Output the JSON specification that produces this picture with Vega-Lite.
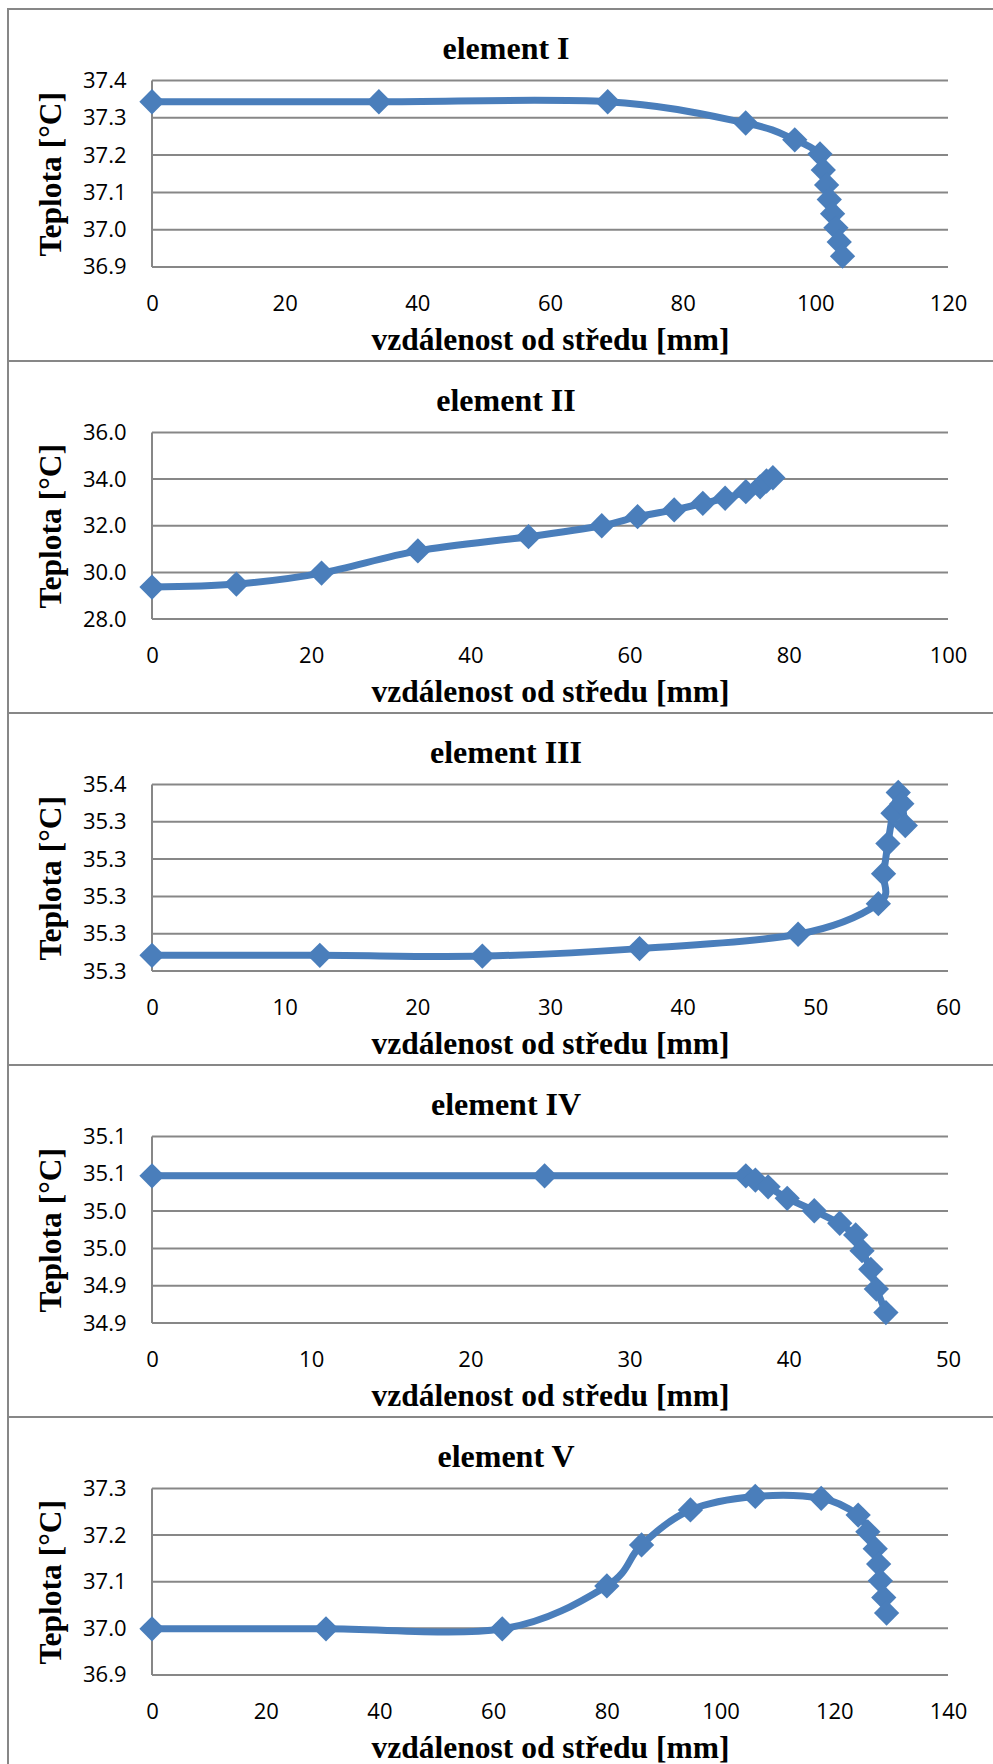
{
  "$schema": "https://vega.github.io/schema/vega-lite/v6.json",
  "background": "white",
  "padding": {"left": 7, "top": 8, "right": 0, "bottom": 0},
  "spacing": 0,
  "bounds": "flush",
  "config": {
    "view": {"stroke": "#878787", "strokeWidth": 2},
    "axis": {
      "labelFont": "Open Sans", "labelFontSize": 22, "labelColor": "black",
      "titleFont": "Liberation Serif", "titleFontSize": 31.5, "titleFontWeight": "bold", "titleColor": "black",
      "domain": false, "ticks": false, "tickSize": 0, "grid": false, "labelPadding": 26,
      "labelFlush": false, "labelOverlap": false, "labelBound": false
    },
    "title": {"font": "Liberation Serif", "fontSize": 32, "fontWeight": "bold", "color": "black", "anchor": "middle", "frame": "group", "offset": -57, "baseline": "alphabetic"}
  },
  "vconcat": [
    {
      "width": 996, "height": 352,
      "title": {"text": "element I"},
      "layer": [
        {"data": {"values": [{"g": 36.9}, {"g": 37.0}, {"g": 37.1}, {"g": 37.2}, {"g": 37.3}, {"g": 37.4}]},
         "mark": {"type": "rule", "color": "#878787", "strokeWidth": 2},
         "encoding": {
           "y": {"field": "g", "type": "quantitative", "scale": {"domain": [36.647989, 37.591689], "nice": false, "zero": false}},
           "x": {"datum": 0, "type": "quantitative", "scale": {"domain": [-21.7085, 128.442], "nice": false, "zero": false}},
           "x2": {"datum": 120}}},
        {"data": {"values": [{"lo": 36.9, "hi": 37.4}]},
         "mark": {"type": "rule", "color": "#878787", "strokeWidth": 2},
         "encoding": {
           "x": {"datum": 0, "type": "quantitative", "scale": {"domain": [-21.7085, 128.442], "nice": false, "zero": false}},
           "y": {"field": "lo", "type": "quantitative", "scale": {"domain": [36.647989, 37.591689], "nice": false, "zero": false}},
           "y2": {"field": "hi"}}},
        {"data": {"name": "p1"},
         "mark": {"type": "line", "interpolate": "cardinal", "color": "#4a7ebb", "strokeWidth": 7},
         "encoding": {
           "x": {"field": "x", "type": "quantitative", "scale": {"domain": [-21.7085, 128.442], "nice": false, "zero": false}},
           "y": {"field": "t", "type": "quantitative", "scale": {"domain": [36.647989, 37.591689], "nice": false, "zero": false}},
           "order": {"field": "i", "type": "quantitative"}}},
        {"data": {"name": "p1"},
         "mark": {"type": "point", "shape": "diamond", "filled": true, "size": 640, "color": "#4a7ebb", "opacity": 1},
         "encoding": {
           "x": {"field": "x", "type": "quantitative", "scale": {"domain": [-21.7085, 128.442], "nice": false, "zero": false},
                 "axis": {"title": "vzdálenost od středu [mm]", "values": [0, 20, 40, 60, 80, 100, 120], "format": "d", "offset": -94, "titleX": 542, "titleY": 82, "titleBaseline": "alphabetic", "titleAlign": "center"}},
           "y": {"field": "t", "type": "quantitative", "scale": {"domain": [36.647989, 37.591689], "nice": false, "zero": false},
                 "axis": {"title": "Teplota [°C]", "values": [36.9, 37.0, 37.1, 37.2, 37.3, 37.4], "labelExpr": "format(datum.value + 1e-9, '.1f')", "offset": -144, "titleX": -92, "titleY": 164.75, "titleAngle": -90, "titleBaseline": "alphabetic", "titleAlign": "center"}}}}
      ]
    },
    {
      "width": 996, "height": 352,
      "title": {"text": "element II"},
      "layer": [
        {"data": {"values": [{"g": 28}, {"g": 30}, {"g": 32}, {"g": 34}, {"g": 36}]},
         "mark": {"type": "rule", "color": "#878787", "strokeWidth": 2},
         "encoding": {
           "y": {"field": "g", "type": "quantitative", "scale": {"domain": [23.96783, 39.06702], "nice": false, "zero": false}},
           "x": {"datum": 0, "type": "quantitative", "scale": {"domain": [-18.0905, 107.035], "nice": false, "zero": false}},
           "x2": {"datum": 100}}},
        {"data": {"values": [{"lo": 28, "hi": 36}]},
         "mark": {"type": "rule", "color": "#878787", "strokeWidth": 2},
         "encoding": {
           "x": {"datum": 0, "type": "quantitative", "scale": {"domain": [-18.0905, 107.035], "nice": false, "zero": false}},
           "y": {"field": "lo", "type": "quantitative", "scale": {"domain": [23.96783, 39.06702], "nice": false, "zero": false}},
           "y2": {"field": "hi"}}},
        {"data": {"name": "p2"},
         "mark": {"type": "line", "interpolate": "cardinal", "color": "#4a7ebb", "strokeWidth": 7},
         "encoding": {
           "x": {"field": "x", "type": "quantitative", "scale": {"domain": [-18.0905, 107.035], "nice": false, "zero": false}},
           "y": {"field": "t", "type": "quantitative", "scale": {"domain": [23.96783, 39.06702], "nice": false, "zero": false}},
           "order": {"field": "i", "type": "quantitative"}}},
        {"data": {"name": "p2"},
         "mark": {"type": "point", "shape": "diamond", "filled": true, "size": 640, "color": "#4a7ebb", "opacity": 1},
         "encoding": {
           "x": {"field": "x", "type": "quantitative", "scale": {"domain": [-18.0905, 107.035], "nice": false, "zero": false},
                 "axis": {"title": "vzdálenost od středu [mm]", "values": [0, 20, 40, 60, 80, 100], "format": "d", "offset": -94, "titleX": 542, "titleY": 82, "titleBaseline": "alphabetic", "titleAlign": "center"}},
           "y": {"field": "t", "type": "quantitative", "scale": {"domain": [23.96783, 39.06702], "nice": false, "zero": false},
                 "axis": {"title": "Teplota [°C]", "values": [28, 30, 32, 34, 36], "labelExpr": "format(datum.value + 1e-9, '.1f')", "offset": -144, "titleX": -92, "titleY": 164.75, "titleAngle": -90, "titleBaseline": "alphabetic", "titleAlign": "center"}}}}
      ]
    },
    {
      "width": 996, "height": 352,
      "title": {"text": "element III"},
      "layer": [
        {"data": {"values": [{"g": 35.26}, {"g": 35.28}, {"g": 35.30}, {"g": 35.32}, {"g": 35.34}, {"g": 35.36}]},
         "mark": {"type": "rule", "color": "#878787", "strokeWidth": 2},
         "encoding": {
           "y": {"field": "g", "type": "quantitative", "scale": {"domain": [35.2095979, 35.3983378], "nice": false, "zero": false}},
           "x": {"datum": 0, "type": "quantitative", "scale": {"domain": [-10.8543, 64.2211], "nice": false, "zero": false}},
           "x2": {"datum": 60}}},
        {"data": {"values": [{"lo": 35.26, "hi": 35.36}]},
         "mark": {"type": "rule", "color": "#878787", "strokeWidth": 2},
         "encoding": {
           "x": {"datum": 0, "type": "quantitative", "scale": {"domain": [-10.8543, 64.2211], "nice": false, "zero": false}},
           "y": {"field": "lo", "type": "quantitative", "scale": {"domain": [35.2095979, 35.3983378], "nice": false, "zero": false}},
           "y2": {"field": "hi"}}},
        {"data": {"name": "p3"},
         "mark": {"type": "line", "interpolate": "cardinal", "color": "#4a7ebb", "strokeWidth": 7},
         "encoding": {
           "x": {"field": "x", "type": "quantitative", "scale": {"domain": [-10.8543, 64.2211], "nice": false, "zero": false}},
           "y": {"field": "t", "type": "quantitative", "scale": {"domain": [35.2095979, 35.3983378], "nice": false, "zero": false}},
           "order": {"field": "i", "type": "quantitative"}}},
        {"data": {"name": "p3"},
         "mark": {"type": "point", "shape": "diamond", "filled": true, "size": 640, "color": "#4a7ebb", "opacity": 1},
         "encoding": {
           "x": {"field": "x", "type": "quantitative", "scale": {"domain": [-10.8543, 64.2211], "nice": false, "zero": false},
                 "axis": {"title": "vzdálenost od středu [mm]", "values": [0, 10, 20, 30, 40, 50, 60], "format": "d", "offset": -94, "titleX": 542, "titleY": 82, "titleBaseline": "alphabetic", "titleAlign": "center"}},
           "y": {"field": "t", "type": "quantitative", "scale": {"domain": [35.2095979, 35.3983378], "nice": false, "zero": false},
                 "axis": {"title": "Teplota [°C]", "values": [35.26, 35.28, 35.30, 35.32, 35.34, 35.36], "labelExpr": "format(datum.value + 1e-9, '.1f')", "offset": -144, "titleX": -92, "titleY": 164.75, "titleAngle": -90, "titleBaseline": "alphabetic", "titleAlign": "center"}}}}
      ]
    },
    {
      "width": 996, "height": 352,
      "title": {"text": "element IV"},
      "layer": [
        {"data": {"values": [{"g": 34.85}, {"g": 34.90}, {"g": 34.95}, {"g": 35.00}, {"g": 35.05}, {"g": 35.10}]},
         "mark": {"type": "rule", "color": "#878787", "strokeWidth": 2},
         "encoding": {
           "y": {"field": "g", "type": "quantitative", "scale": {"domain": [34.723995, 35.1958445], "nice": false, "zero": false}},
           "x": {"datum": 0, "type": "quantitative", "scale": {"domain": [-9.0452, 53.5176], "nice": false, "zero": false}},
           "x2": {"datum": 50}}},
        {"data": {"values": [{"lo": 34.85, "hi": 35.10}]},
         "mark": {"type": "rule", "color": "#878787", "strokeWidth": 2},
         "encoding": {
           "x": {"datum": 0, "type": "quantitative", "scale": {"domain": [-9.0452, 53.5176], "nice": false, "zero": false}},
           "y": {"field": "lo", "type": "quantitative", "scale": {"domain": [34.723995, 35.1958445], "nice": false, "zero": false}},
           "y2": {"field": "hi"}}},
        {"data": {"name": "p4"},
         "mark": {"type": "line", "interpolate": "linear", "color": "#4a7ebb", "strokeWidth": 7},
         "encoding": {
           "x": {"field": "x", "type": "quantitative", "scale": {"domain": [-9.0452, 53.5176], "nice": false, "zero": false}},
           "y": {"field": "t", "type": "quantitative", "scale": {"domain": [34.723995, 35.1958445], "nice": false, "zero": false}},
           "order": {"field": "i", "type": "quantitative"}}},
        {"data": {"name": "p4"},
         "mark": {"type": "point", "shape": "diamond", "filled": true, "size": 640, "color": "#4a7ebb", "opacity": 1},
         "encoding": {
           "x": {"field": "x", "type": "quantitative", "scale": {"domain": [-9.0452, 53.5176], "nice": false, "zero": false},
                 "axis": {"title": "vzdálenost od středu [mm]", "values": [0, 10, 20, 30, 40, 50], "format": "d", "offset": -94, "titleX": 542, "titleY": 82, "titleBaseline": "alphabetic", "titleAlign": "center"}},
           "y": {"field": "t", "type": "quantitative", "scale": {"domain": [34.723995, 35.1958445], "nice": false, "zero": false},
                 "axis": {"title": "Teplota [°C]", "values": [34.85, 34.90, 34.95, 35.00, 35.05, 35.10], "labelExpr": "format(datum.value + 1e-9, '.1f')", "offset": -144, "titleX": -92, "titleY": 164.75, "titleAngle": -90, "titleBaseline": "alphabetic", "titleAlign": "center"}}}}
      ]
    },
    {
      "width": 996, "height": 352,
      "title": {"text": "element V"},
      "layer": [
        {"data": {"values": [{"g": 36.9}, {"g": 37.0}, {"g": 37.1}, {"g": 37.2}, {"g": 37.3}]},
         "mark": {"type": "rule", "color": "#878787", "strokeWidth": 2},
         "encoding": {
           "y": {"field": "g", "type": "quantitative", "scale": {"domain": [36.698391, 37.453351], "nice": false, "zero": false}},
           "x": {"datum": 0, "type": "quantitative", "scale": {"domain": [-25.3266, 149.849], "nice": false, "zero": false}},
           "x2": {"datum": 140}}},
        {"data": {"values": [{"lo": 36.9, "hi": 37.3}]},
         "mark": {"type": "rule", "color": "#878787", "strokeWidth": 2},
         "encoding": {
           "x": {"datum": 0, "type": "quantitative", "scale": {"domain": [-25.3266, 149.849], "nice": false, "zero": false}},
           "y": {"field": "lo", "type": "quantitative", "scale": {"domain": [36.698391, 37.453351], "nice": false, "zero": false}},
           "y2": {"field": "hi"}}},
        {"data": {"name": "p5"},
         "mark": {"type": "line", "interpolate": "cardinal", "color": "#4a7ebb", "strokeWidth": 7},
         "encoding": {
           "x": {"field": "x", "type": "quantitative", "scale": {"domain": [-25.3266, 149.849], "nice": false, "zero": false}},
           "y": {"field": "t", "type": "quantitative", "scale": {"domain": [36.698391, 37.453351], "nice": false, "zero": false}},
           "order": {"field": "i", "type": "quantitative"}}},
        {"data": {"name": "p5"},
         "mark": {"type": "point", "shape": "diamond", "filled": true, "size": 640, "color": "#4a7ebb", "opacity": 1},
         "encoding": {
           "x": {"field": "x", "type": "quantitative", "scale": {"domain": [-25.3266, 149.849], "nice": false, "zero": false},
                 "axis": {"title": "vzdálenost od středu [mm]", "values": [0, 20, 40, 60, 80, 100, 120, 140], "format": "d", "offset": -94, "titleX": 542, "titleY": 82, "titleBaseline": "alphabetic", "titleAlign": "center"}},
           "y": {"field": "t", "type": "quantitative", "scale": {"domain": [36.698391, 37.453351], "nice": false, "zero": false},
                 "axis": {"title": "Teplota [°C]", "values": [36.9, 37.0, 37.1, 37.2, 37.3], "labelExpr": "format(datum.value + 1e-9, '.1f')", "offset": -144, "titleX": -92, "titleY": 164.75, "titleAngle": -90, "titleBaseline": "alphabetic", "titleAlign": "center"}}}}
      ]
    }
  ],
  "datasets": {
    "p1": [
      {"i": 1, "x": 0, "t": 37.343}, {"i": 2, "x": 34.2, "t": 37.343}, {"i": 3, "x": 68.7, "t": 37.343},
      {"i": 4, "x": 89.5, "t": 37.286}, {"i": 5, "x": 96.9, "t": 37.241}, {"i": 6, "x": 100.7, "t": 37.203},
      {"i": 7, "x": 101.2, "t": 37.160}, {"i": 8, "x": 101.7, "t": 37.120}, {"i": 9, "x": 102.1, "t": 37.081},
      {"i": 10, "x": 102.6, "t": 37.043}, {"i": 11, "x": 103.1, "t": 37.005}, {"i": 12, "x": 103.6, "t": 36.967},
      {"i": 13, "x": 104.1, "t": 36.929}
    ],
    "p2": [
      {"i": 1, "x": 0, "t": 29.37}, {"i": 2, "x": 10.6, "t": 29.50}, {"i": 3, "x": 21.3, "t": 29.97},
      {"i": 4, "x": 33.4, "t": 30.92}, {"i": 5, "x": 47.3, "t": 31.53}, {"i": 6, "x": 56.5, "t": 32.00},
      {"i": 7, "x": 61.0, "t": 32.39}, {"i": 8, "x": 65.6, "t": 32.68}, {"i": 9, "x": 69.2, "t": 32.96},
      {"i": 10, "x": 72.0, "t": 33.18}, {"i": 11, "x": 74.6, "t": 33.46}, {"i": 12, "x": 76.4, "t": 33.67},
      {"i": 13, "x": 77.2, "t": 33.92}, {"i": 14, "x": 78.0, "t": 34.06}
    ],
    "p3": [
      {"i": 1, "x": 0, "t": 35.2684}, {"i": 2, "x": 12.65, "t": 35.2684}, {"i": 3, "x": 24.9, "t": 35.2680},
      {"i": 4, "x": 36.75, "t": 35.2720}, {"i": 5, "x": 48.7, "t": 35.2797}, {"i": 6, "x": 54.75, "t": 35.2961},
      {"i": 7, "x": 55.14, "t": 35.3122}, {"i": 8, "x": 55.47, "t": 35.3283}, {"i": 9, "x": 55.85, "t": 35.3446},
      {"i": 10, "x": 56.25, "t": 35.3557}, {"i": 11, "x": 56.52, "t": 35.3497}, {"i": 12, "x": 56.78, "t": 35.3380}
    ],
    "p4": [
      {"i": 1, "x": 0, "t": 35.0473}, {"i": 2, "x": 24.66, "t": 35.0473}, {"i": 3, "x": 37.3, "t": 35.0473},
      {"i": 4, "x": 37.9, "t": 35.0416}, {"i": 5, "x": 38.7, "t": 35.0326}, {"i": 6, "x": 39.9, "t": 35.0171},
      {"i": 7, "x": 41.6, "t": 35.0005}, {"i": 8, "x": 43.2, "t": 34.9837}, {"i": 9, "x": 44.2, "t": 34.9680},
      {"i": 10, "x": 44.6, "t": 34.9470}, {"i": 11, "x": 45.15, "t": 34.9220}, {"i": 12, "x": 45.5, "t": 34.8955},
      {"i": 13, "x": 46.1, "t": 34.8640}
    ],
    "p5": [
      {"i": 1, "x": 0, "t": 36.999}, {"i": 2, "x": 30.6, "t": 36.999}, {"i": 3, "x": 61.6, "t": 36.999},
      {"i": 4, "x": 80.0, "t": 37.091}, {"i": 5, "x": 86.1, "t": 37.179}, {"i": 6, "x": 94.7, "t": 37.254},
      {"i": 7, "x": 106.1, "t": 37.283}, {"i": 8, "x": 117.7, "t": 37.279}, {"i": 9, "x": 124.2, "t": 37.243},
      {"i": 10, "x": 125.9, "t": 37.207}, {"i": 11, "x": 127.2, "t": 37.171}, {"i": 12, "x": 127.8, "t": 37.138},
      {"i": 13, "x": 128.1, "t": 37.102}, {"i": 14, "x": 128.7, "t": 37.066}, {"i": 15, "x": 129.2, "t": 37.033}
    ]
  }
}
